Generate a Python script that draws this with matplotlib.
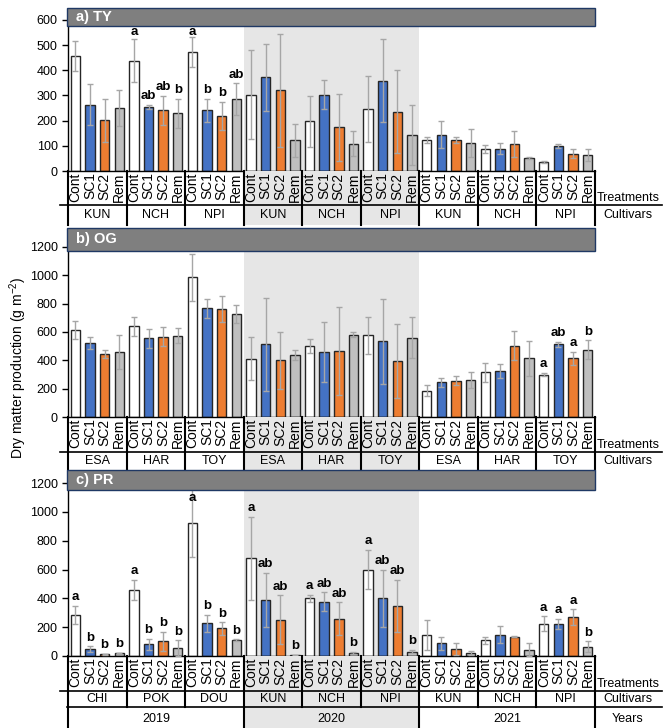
import matplotlib
matplotlib.use("Agg")
import matplotlib.pyplot as plt
from matplotlib.patches import Rectangle
import numpy as np

plt.rcParams['font.family'] = ['Liberation Sans', 'DejaVu Sans']
plt.rcParams['mathtext.fontset'] = 'custom'
plt.rcParams['mathtext.rm'] = 'Liberation Sans'
plt.rcParams['mathtext.default'] = 'regular'

years = ['2019', '2020', '2021']
treatments = ['Cont', 'SC1', 'SC2', 'Rem']
colors = ['white', '#4472c4', '#ed7d31', '#bfbfbf']

# a) TY
ty_cult = ['KUN', 'NCH', 'NPI'] * 3
ty_mean = [457, 264, 201, 249,  438, 256, 241, 229,  472, 241, 219, 285,
           303, 372, 320, 122,  197, 303, 173, 109,  246, 359, 236, 143,
           122, 144, 122, 110,   86,  89, 107,  52,   36,  98,  69,  62]
ty_err = [59, 80, 86, 71,  85, 8, 58, 57,  60, 45, 55, 63,
          176, 133, 226, 66,  102, 57, 134, 51,  130, 164, 165, 121,
          12, 53, 12, 56,  16, 21, 51, 5,  5, 8, 17, 24]
ty_let = ['', '', '', '',  'a', 'ab', 'ab', 'b',  'a', 'b', 'b', 'ab'] + [''] * 24

# b) OG
og_cult = ['ESA', 'HAR', 'TOY'] * 3
og_mean = [614, 522, 447, 459,  640, 555, 565, 574,  986, 766, 761, 728,
           412, 513, 400, 440,  501, 459, 464, 581,  576, 536, 398, 560,
           186, 245, 256, 261,  315, 322, 504, 414,  299, 513, 414, 475]
og_err = [66, 43, 28, 117,  67, 69, 67, 54,  166, 64, 93, 66,
          153, 327, 200, 35,  52, 211, 312, 19,  132, 300, 261, 146,
          40, 33, 33, 57,  66, 50, 101, 125,  12, 19, 45, 66]
og_let = [''] * 32 + ['a', 'ab', 'a', 'b']

# c) PR
pr_cult = ['CHI', 'POK', 'DOU', 'KUN', 'NCH', 'NPI', 'KUN', 'NCH', 'NPI']
pr_mean = [285, 47, 12, 19,  459, 80, 101, 54,  925, 228, 191, 111,
           677, 389, 253, 5,  400, 377, 260, 20,  600, 400, 349, 30,
           149, 88, 51, 19,  109, 149, 135, 44,  223, 223, 270, 65]
pr_err = [60, 20, 4, 5,  71, 38, 68, 54,  237, 59, 42, 4,
          290, 190, 168, 2,  23, 65, 112, 6,  135, 200, 181, 12,
          104, 47, 42, 14,  26, 60, 5, 44,  51, 33, 53, 37]
pr_let = (['a', 'b', 'b', 'b'] * 3 + ['a', 'ab', 'ab', 'b'] * 3
          + [''] * 8 + ['a', 'a', 'a', 'b'])

W, H = 669, 728
fig = plt.figure(figsize=(W / 100, H / 100), dpi=100)


def fx(px):
    return px / W


def fy(py):
    return 1 - py / H


def px2x(px):
    return -0.5 + (px - 68) * 36 / 527


shade = '#e6e6e6'
x = np.arange(36)
left, right = 68, 595

panels = [
    dict(title='a) TY', mean=ty_mean, err=ty_err, let=ty_let, cult=ty_cult,
         ymax=600, step=100, top=20, bot=171, tr=205, cu=225, head=(8, 26)),
    dict(title='b) OG', mean=og_mean, err=og_err, let=og_let, cult=og_cult,
         ymax=1200, step=200, top=247, bot=417, tr=452, cu=470, head=(228, 251)),
    dict(title='c) PR', mean=pr_mean, err=pr_err, let=pr_let, cult=pr_cult,
         ymax=1200, step=200, top=483, bot=656, tr=691, cu=707, head=(470, 490)),
]

for k, p in enumerate(panels):
    ax = fig.add_axes([fx(left), fy(p['bot']), fx(right) - fx(left),
                       (p['bot'] - p['top']) / H])
    ax.axvspan(11.5, 23.5, color=shade, zorder=0, lw=0)
    ax.bar(x, p['mean'], width=0.64, color=[colors[i % 4] for i in x],
           edgecolor='#262626', linewidth=1, zorder=2)
    ax.errorbar(x, p['mean'], yerr=p['err'], fmt='none', ecolor='#a6a6a6',
                elinewidth=1, capsize=2.5, capthick=1, zorder=3)
    for i in x:
        if p['let'][i]:
            yt = min(p['mean'][i] + p['err'][i], p['ymax'] * 0.86)
            ax.annotate(p['let'][i], (i, yt), xytext=(0, 2),
                        textcoords='offset points', ha='center', va='bottom',
                        fontsize=9.5, fontweight='bold', zorder=4)
    ax.set_xlim(-0.5, 35.5)
    ax.set_ylim(0, p['ymax'])
    ax.set_yticks(np.arange(0, p['ymax'] + 1, p['step']))
    ax.set_xticks([])
    ax.tick_params(axis='y', labelsize=9, length=4, width=1, direction='out')
    for s in ['top', 'right']:
        ax.spines[s].set_visible(False)
    for s in ['left', 'bottom']:
        ax.spines[s].set_color('black')
        ax.spines[s].set_linewidth(1)
    ax.patch.set_alpha(0)

    # table below the plot
    tb = 728 if k == 2 else p['cu']
    tab = fig.add_axes([fx(left), fy(tb), fx(right) - fx(left), (tb - p['bot']) / H])
    tab.set_xlim(-0.5, 35.5)
    tab.set_ylim(tb, p['bot'])
    tab.axis('off')
    tab.axvspan(11.5, 23.5, color=shade, zorder=0, lw=0)
    for i in x:
        tab.text(i, p['bot'] + 1.5, treatments[i % 4], rotation=90, ha='center',
                 va='top', fontsize=10)
    tab.plot([px2x(60), px2x(662)], [p['tr'], p['tr']], color='black', lw=1.2,
             clip_on=False)
    for g in range(10):
        tab.plot([4 * g - 0.5] * 2, [p['bot'], p['cu']], color='black', lw=1.5,
                 clip_on=False)
    for g in range(9):
        tab.text(4 * g + 1.5, (p['tr'] + p['cu']) / 2 + 0.5, p['cult'][g],
                 ha='center', va='center', fontsize=9)
    tab.text(px2x(628), p['tr'] - 1, 'Treatments', ha='center', va='bottom',
             fontsize=9, clip_on=False)
    tab.text(px2x(628), (p['tr'] + p['cu']) / 2 + 0.5, 'Cultivars', ha='center',
             va='center', fontsize=9, clip_on=False)
    if k == 2:
        tab.plot([px2x(67), px2x(662)], [p['cu'], p['cu']], color='black',
                 lw=1.2, clip_on=False)
        for b in [-0.5, 11.5, 23.5, 35.5]:
            tab.plot([b, b], [p['cu'], 728], color='black', lw=1.5, clip_on=False)
        for j, yr in enumerate(years):
            tab.text(12 * j + 5.5, 719, yr, ha='center', va='center', fontsize=9)
        tab.text(px2x(628), 719, 'Years', ha='center', va='center', fontsize=9,
                 clip_on=False)

    # header band
    h0, h1 = p['head']
    fig.patches.append(Rectangle((fx(67), fy(h1)), fx(595) - fx(67), (h1 - h0) / H,
                                 transform=fig.transFigure, facecolor='#7f7f7f',
                                 edgecolor='#1f3864', lw=1, zorder=5))
    fig.text(fx(76), fy((h0 + h1) / 2), p['title'], color='white', fontsize=10.5,
             fontweight='bold', ha='left', va='center', zorder=6)

fig.text(fx(18), fy(368), 'Dry matter production (g m$^{-2}$)', rotation=90,
         ha='center', va='center', fontsize=10)

fig.savefig('out.png', dpi=100)
